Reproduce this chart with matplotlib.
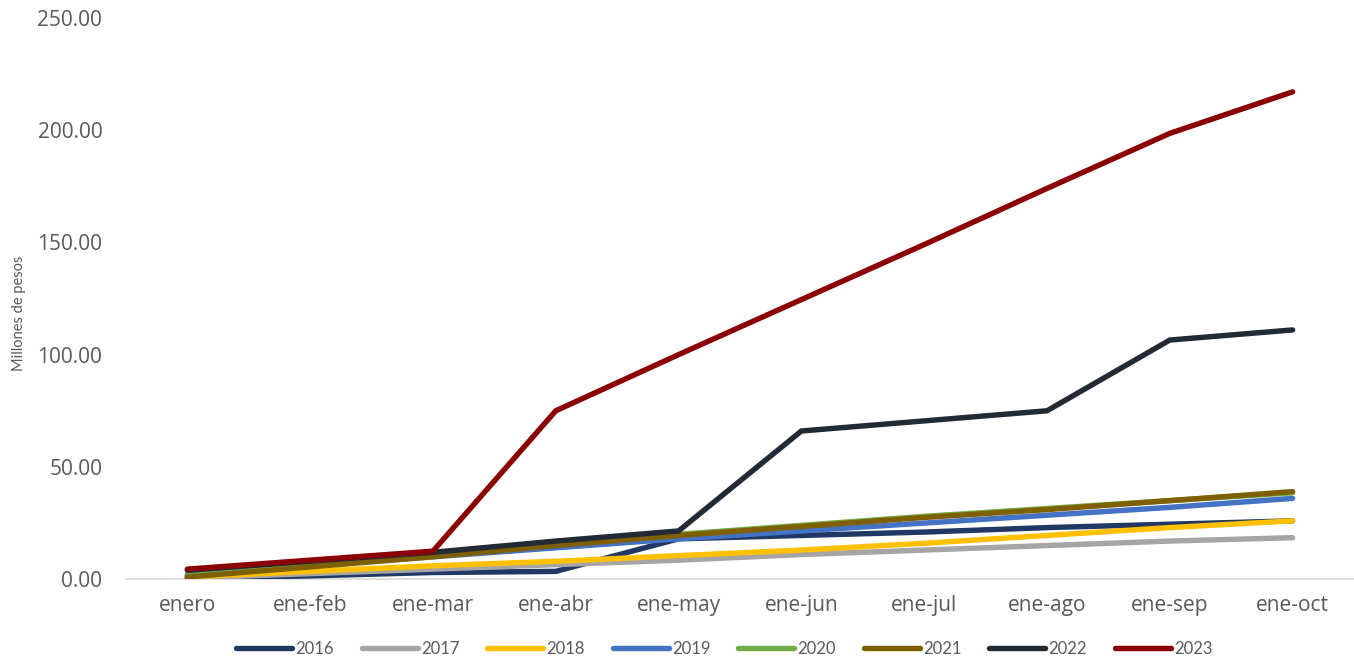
import matplotlib.pyplot as plt

categorias = ["enero", "ene-feb", "ene-mar", "ene-abr", "ene-may",
              "ene-jun", "ene-jul", "ene-ago", "ene-sep", "ene-oct"]

s2016 = [0.5, 1.5, 3.0, 3.5, 18.0, 19.5, 21.0, 23.0, 24.5, 26.0]
s2017 = [0.5, 2.5, 4.5, 6.5, 8.5, 11.0, 13.0, 15.0, 17.0, 18.5]
s2018 = [1.0, 3.5, 6.0, 8.0, 10.5, 13.0, 16.0, 19.5, 23.0, 26.0]
s2019 = [2.0, 6.0, 10.0, 14.0, 18.0, 21.5, 25.0, 28.5, 32.0, 36.0]
s2020 = [1.5, 6.0, 11.0, 15.5, 20.0, 24.0, 28.0, 31.5, 35.0, 38.5]
s2021 = [1.0, 5.5, 10.0, 15.0, 19.5, 23.5, 27.5, 31.0, 35.0, 39.0]
s2022 = [4.0, 8.0, 12.0, 17.0, 21.5, 66.0, 70.5, 75.0, 106.5, 111.0]
s2023 = [4.5, 8.5, 12.5, 75.0, 100.0, 124.5, 149.0, 174.0, 198.5, 217.0]

series = [
    ("2016", s2016, "#203864"),
    ("2017", s2017, "#A5A5A5"),
    ("2018", s2018, "#FFC000"),
    ("2019", s2019, "#4472C4"),
    ("2020", s2020, "#70AD47"),
    ("2021", s2021, "#7F6000"),
    ("2022", s2022, "#222A35"),
    ("2023", s2023, "#8B0000"),
]

TICK_FONT = ["Open Sans", "DejaVu Sans"]
NARROW = ["Lato", "DejaVu Sans"]


def main():
    fig = plt.figure(figsize=(13.54, 6.56), dpi=100)
    ax = fig.add_axes([0.093, 0.117, 0.907, 0.856])

    x = list(range(len(categorias)))
    for nombre, vals, color in series:
        ax.plot(x, vals, color=color, lw=3.9, label=nombre,
                solid_capstyle="round", solid_joinstyle="miter")

    ax.set_xlim(-0.5, 9.5)
    ax.set_ylim(0, 250)
    ax.set_yticks([0, 50, 100, 150, 200, 250])
    ax.set_yticklabels(["%.2f" % v for v in [0, 50, 100, 150, 200, 250]])
    ax.set_xticks(x)
    ax.set_xticklabels(categorias)
    for lab in ax.get_xticklabels() + ax.get_yticklabels():
        lab.set_family(TICK_FONT)
        lab.set_fontsize(15)
    ax.tick_params(axis="both", length=0, colors="#595959")
    ax.tick_params(axis="x", pad=11)
    ax.tick_params(axis="y", pad=17)
    ax.set_ylabel("Millones de pesos", fontsize=10.5, color="#595959",
                  family=NARROW)
    ax.yaxis.set_label_coords(-0.081, 0.474)

    for side in ["top", "right", "left"]:
        ax.spines[side].set_visible(False)
    ax.spines["bottom"].set_color("#D9D9D9")
    ax.spines["bottom"].set_linewidth(1.2)
    ax.spines["bottom"].set_zorder(0)

    fig.legend(loc="lower center", ncol=8, frameon=False,
               prop={"family": NARROW, "size": 12},
               bbox_to_anchor=(0.535, -0.024), handlelength=3.36,
               columnspacing=1.68, handletextpad=0.18,
               labelcolor="#595959")

    fig.savefig("out.png", dpi=100)


if __name__ == '__main__':
    main()
